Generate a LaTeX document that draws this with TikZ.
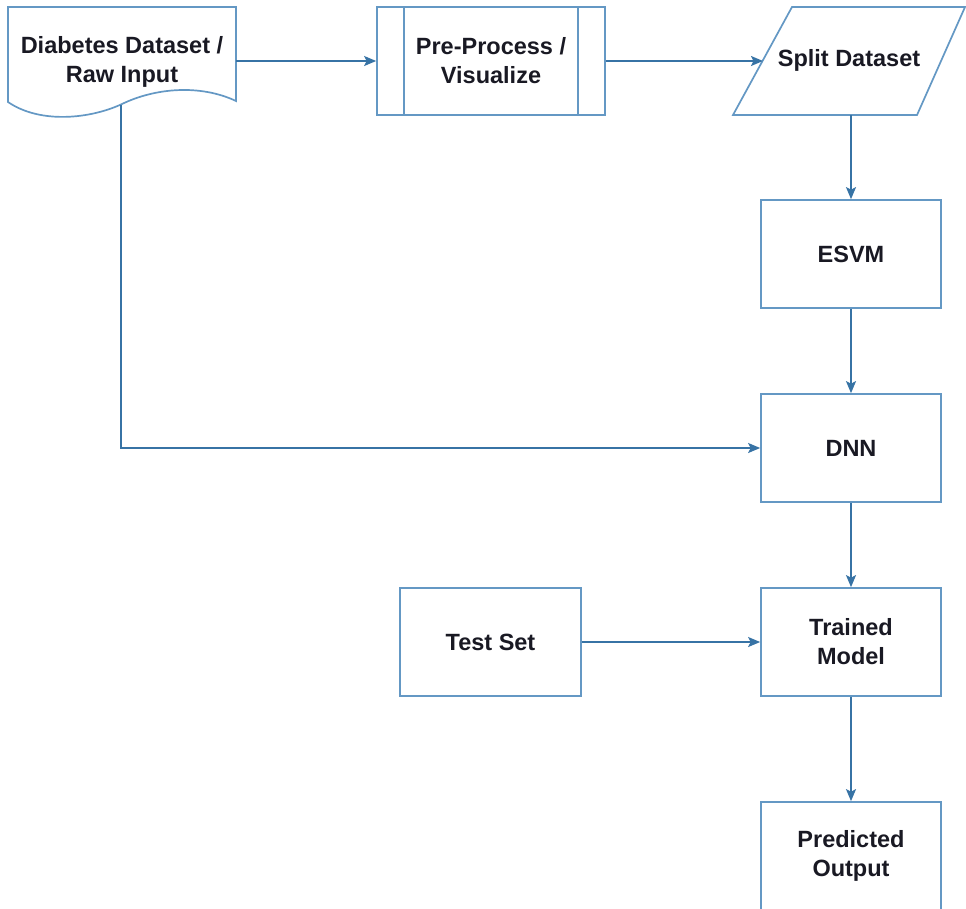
\documentclass[tikz,border=0pt]{standalone}
\usepackage{fontspec}
\setmainfont{Liberation Sans}
\usetikzlibrary{arrows.meta,calc}
\definecolor{edge}{RGB}{100,152,196}
\definecolor{wire}{RGB}{55,115,165}
\definecolor{ink}{RGB}{25,25,35}
\begin{document}
\begin{tikzpicture}[x=1pt,y=-1pt,
  every node/.style={font=\bfseries\fontsize{23.5}{29}\selectfont, text=ink, align=center},
  box/.style={draw=edge, line width=1.7pt, minimum width=180pt, minimum height=108pt, inner sep=0pt},
  shapeline/.style={draw=edge, line width=1.7pt},
  conn/.style={draw=wire, line width=1.6pt, -{Stealth[length=12pt,width=10pt,inset=2.5pt]}}]
\useasboundingbox (0,0) rectangle (966,908);
% document shape
\path[shapeline, fill=white] (8,7) -- (236,7) -- (236,101)
  .. controls (200,84) and (155,88) .. (122,104)
  .. controls (90,119) and (40,124) .. (8,102) -- cycle;
\node[minimum width=228pt, minimum height=96pt, inner sep=0pt] (doc) at (122,62) {Diabetes Dataset /\\Raw Input};
\coordinate (docb) at (121,105);
% pre-process
\node[box, minimum width=228pt] (pre) at (491,61) {Pre-Process /\\Visualize};
\draw[shapeline] ($(pre.north west)+(28,0)$) -- ($(pre.south west)+(28,0)$);
\draw[shapeline] ($(pre.north east)+(-28,0)$) -- ($(pre.south east)+(-28,0)$);
% split dataset
\path[shapeline, fill=white] (792,7) -- (965,7) -- (917,115) -- (733,115) -- cycle;
\node (split) at (849,60) {Split Dataset};
\coordinate (splitw) at (763,61);
\coordinate (splits) at (851,115);
% boxes
\node[box] (esvm) at (851,254) {ESVM};
\node[box] (dnn) at (851,448) {DNN};
\node[box] (trained) at (851,642) {Trained\\Model};
\node[box, minimum width=181pt] (test) at (490.5,642) {Test Set};
\node[box] (pred) at (851,856) {Predicted\\Output};
% connectors
\draw[conn] (doc.east |- pre.west) -- (pre.west);
\draw[conn] (pre.east) -- (splitw);
\draw[conn] (splits) -- (esvm.north);
\draw[conn] (esvm.south) -- (dnn.north);
\draw[conn] (dnn.south) -- (trained.north);
\draw[conn] (trained.south) -- (pred.north);
\draw[conn] (test.east) -- (trained.west);
\draw[conn] (docb) |- (dnn.west);
\end{tikzpicture}
\end{document}
